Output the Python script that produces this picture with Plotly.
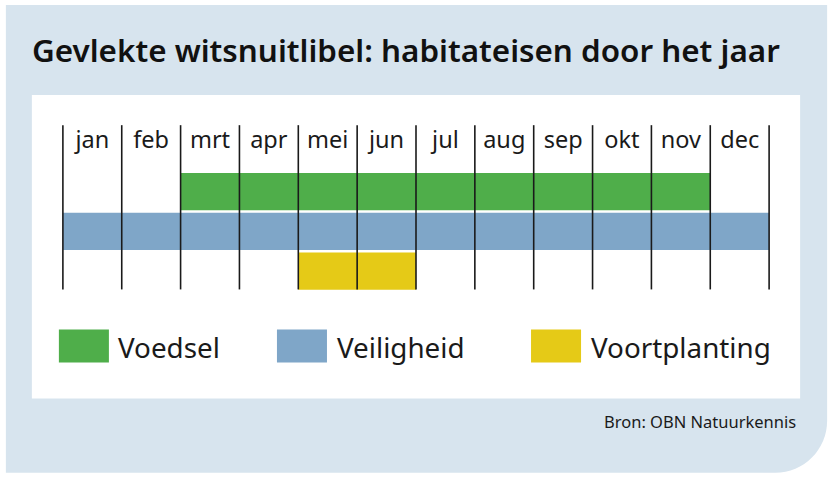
import plotly.graph_objects as go

# ---- data ----
months = ["jan", "feb", "mrt", "apr", "mei", "jun", "jul", "aug", "sep", "okt", "nov", "dec"]
series = ["Voedsel", "Veiligheid", "Voortplanting"]
start_month = [2, 0, 4]    # index of first month (mrt, jan, mei)
end_month = [11, 12, 6]    # exclusive end (through nov, dec, jun)
row_pos = [2, 1, 0]
colors = ["#4fae4a", "#7fa6c8", "#e5ca17"]

title = "Gevlekte witsnuitlibel: habitateisen door het jaar"
source = "Bron: OBN Natuurkennis"

# ---- geometry ----
W, H = 833, 478
px_x = 706 / 12          # pixels per month
px_y = 39.71             # pixels per row
xr = [-0.1, 12.1]
yr = [-0.6, 3.8]
L = 63 - 0.1 * px_x
R = W - 769 - 0.1 * px_x
T = 125 - (yr[1] - 3.67) * px_y
B = H - 289 - (-0.46 - yr[0]) * px_y
PW = W - L - R
PH = H - T - B

def fx(px):
    return (px - L) / PW

def fy(py):
    return (H - B - py) / PH

FONT = "Noto Sans"
TXT = "#1a1a1a"

fig = go.Figure()

for name, s, e, r, c in zip(series, start_month, end_month, row_pos, colors):
    fig.add_trace(go.Bar(
        orientation="h", y=[r], x=[e - s], base=[s], width=0.94,
        marker=dict(color=c, line=dict(width=0)), name=name,
        hoverinfo="skip", showlegend=False,
    ))

# month separators
lx, ly = [], []
for b in range(len(months) + 1):
    lx += [b, b, None]
    ly += [-0.46, 3.67, None]
fig.add_trace(go.Scatter(x=lx, y=ly, mode="lines",
                         line=dict(color="#1a1a1a", width=1.6),
                         hoverinfo="skip", showlegend=False))

# month labels
fig.add_trace(go.Scatter(x=[i + 0.5 for i in range(len(months))], y=[3.24] * len(months),
                         mode="text", text=months,
                         textfont=dict(family=FONT, size=23.5, color=TXT),
                         hoverinfo="skip", showlegend=False))

shapes = []
# light blue background with rounded bottom-right corner
x0, y0, x1, y1, rad = 6, 5, 827, 472, 52
k = 0.5523
path = (f"M {fx(x0)},{fy(y0)} L {fx(x1)},{fy(y0)} L {fx(x1)},{fy(y1 - rad)} "
        f"C {fx(x1)},{fy(y1 - rad + k * rad)} {fx(x1 - rad + k * rad)},{fy(y1)} {fx(x1 - rad)},{fy(y1)} "
        f"L {fx(x0)},{fy(y1)} Z")
shapes.append(dict(type="path", xref="paper", yref="paper", path=path,
                   fillcolor="#d7e4ee", line=dict(width=0), layer="below"))
# white panel
shapes.append(dict(type="rect", xref="paper", yref="paper",
                   x0=fx(32), x1=fx(800), y0=fy(398), y1=fy(95),
                   fillcolor="white", line=dict(width=0), layer="below"))

annotations = [
    dict(text=title, xref="paper", yref="paper", x=fx(30), y=fy(49),
         xanchor="left", yanchor="middle", showarrow=False,
         font=dict(family=FONT, size=31.4, color="#111111", weight=600)),
    dict(text=source, xref="paper", yref="paper", x=fx(798), y=fy(421),
         xanchor="right", yanchor="middle", showarrow=False,
         font=dict(family=FONT, size=16.5, color=TXT)),
]

# legend
leg_sq = [59, 277, 531]
leg_tx = [116, 335, 589]
for name, c, sx, tx in zip(series, colors, leg_sq, leg_tx):
    shapes.append(dict(type="rect", xref="paper", yref="paper",
                       x0=fx(sx), x1=fx(sx + 50), y0=fy(362), y1=fy(329),
                       fillcolor=c, line=dict(width=0), layer="above"))
    annotations.append(dict(text=name, xref="paper", yref="paper", x=fx(tx), y=fy(346),
                            xanchor="left", yanchor="middle", showarrow=False,
                            font=dict(family=FONT, size=27.8, color=TXT)))

fig.update_layout(
    width=W, height=H, autosize=False,
    margin=dict(l=L, r=R, t=T, b=B, pad=0),
    paper_bgcolor="white", plot_bgcolor="rgba(0,0,0,0)",
    barmode="overlay",
    xaxis=dict(range=xr, visible=False, fixedrange=True),
    yaxis=dict(range=yr, visible=False, fixedrange=True),
    shapes=shapes, annotations=annotations,
    showlegend=False,
)

fig.write_html("out.html", config={"displayModeBar": False},
               post_script="document.body.style.margin='0px';")
